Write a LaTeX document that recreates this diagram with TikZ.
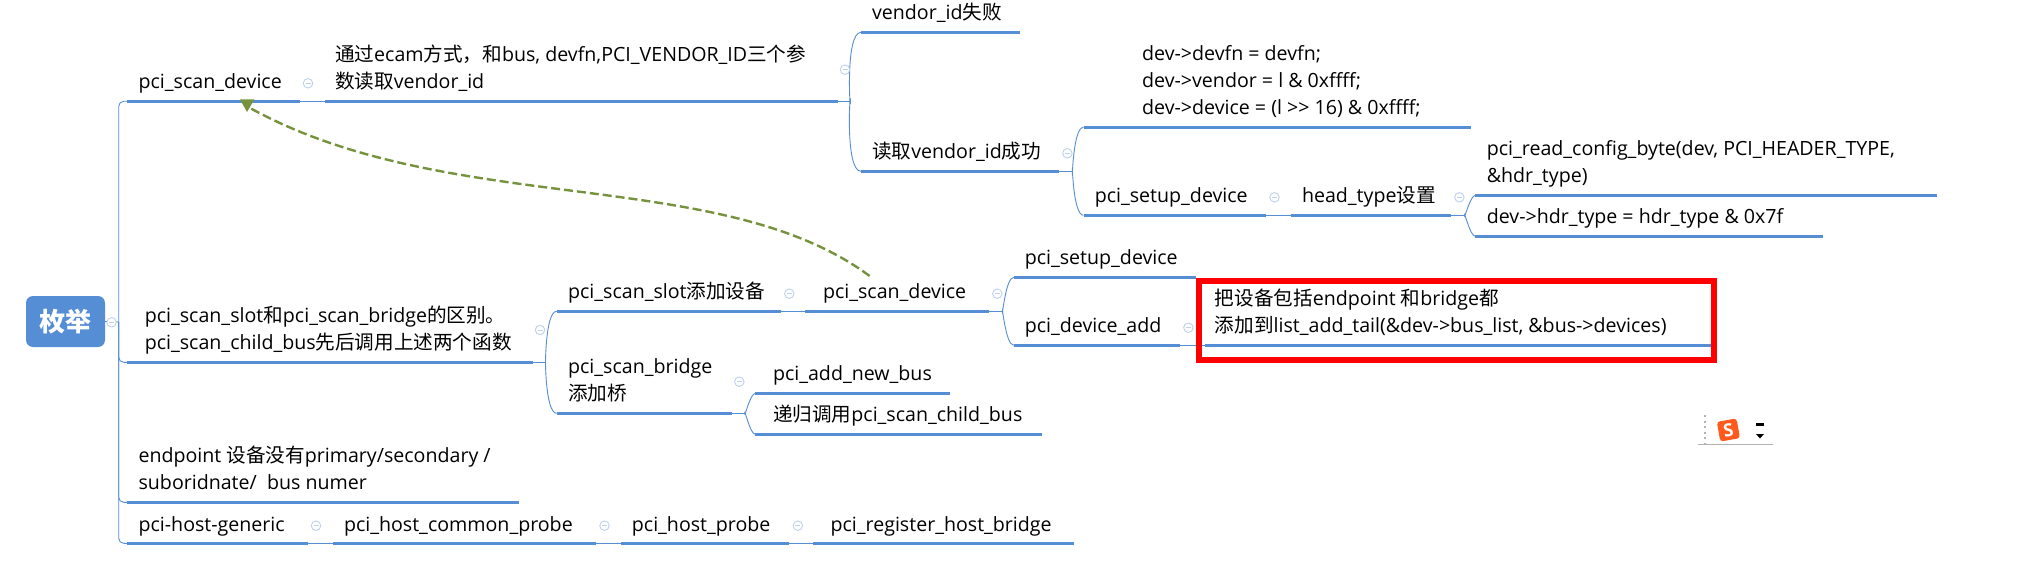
\documentclass[tikz,border=0pt]{standalone}
\usepackage{fontspec}
\setmainfont{Open Sans}
\newfontfamily\zhfont{Noto Sans CJK SC}
\newcommand{\Z}[1]{{\zhfont #1}}
\definecolor{mapblue}{RGB}{85,142,213}
\definecolor{iconblue}{RGB}{190,208,240}
\definecolor{olive}{RGB}{118,146,60}
\definecolor{logoorange}{RGB}{255,90,30}
\tikzset{
  txt/.style={anchor=west,inner sep=0pt,align=left,font=\fontsize{19.6}{26.9}\selectfont},
  thickline/.style={draw=mapblue,line width=2.8pt},
  conn/.style={draw=mapblue,line width=0.9pt},
  iconnode/.style={circle,draw=iconblue,line width=0.9pt,minimum size=9.5pt,inner sep=0pt,fill=white},
  relation/.style={draw=olive,line width=2.4pt,dash pattern=on 9pt off 4pt},
}
% #1 name, #2 x1, #3 x2, #4 line y, #5 text x, #6 text y, #7 text
\newcommand{\topic}[7]{%
  \coordinate (#1-l) at (#2,#4);
  \coordinate (#1-r) at (#3,#4);
  \path[thickline] (#1-l) -- (#1-r);
  \node[txt] (#1) at (#5,#6) {#7};
}
\newcommand{\collapse}[3]{%
  \node[iconnode] (#1) at (#2,#3) {};
  \draw[iconblue,line width=0.9pt] ([xshift=-2.5pt]#1.center) -- ([xshift=2.5pt]#1.center);
}
\begin{document}
\begin{tikzpicture}[x=1pt,y=-1pt]
\useasboundingbox (0,0) rectangle (2029,567);
\fill[white] (0,0) rectangle (2029,567);

% root
\node[fill=mapblue,rounded corners=7pt,minimum width=79pt,minimum height=51pt,inner sep=0pt,text=white,font=\zhfont\bfseries\fontsize{26}{30}\selectfont] (root) at (65.5,321.5) {枚举};
\coordinate (rootj) at (118.7,322);

% first-level topics
\topic{a}{127}{300}{101.3}{138.4}{83.3}{\strut pci\_scan\_device}
\topic{b}{127}{532.6}{362.3}{144.6}{330.6}{\strut pci\_scan\_slot\Z{和}pci\_scan\_bridge\Z{的区别。}\\\strut pci\_scan\_child\_bus\Z{先后调用上述两个函数}}
\topic{c}{127}{519}{502.3}{138.4}{470.6}{\strut endpoint \Z{设备没有}primary/secondary /\\\strut suboridnate/\ \ bus numer}
\topic{d}{127}{308}{543.3}{138.4}{525.7}{\strut pci-host-generic}

% upper branch
\topic{a1}{325}{837.5}{101.3}{334.8}{69.4}{\strut \Z{通过}ecam\Z{方式，和}bus, devfn,PCI\_VENDOR\_ID\Z{三个参}\\\strut \Z{数读取}vendor\_id}
\topic{a11}{861}{1019.6}{32.3}{871.9}{14.3}{\strut vendor\_id\Z{失败}}
\topic{a12}{861}{1059.4}{171.3}{871.9}{153.3}{\strut \Z{读取}vendor\_id\Z{成功}}
\topic{a121}{1083.5}{1470.5}{127.3}{1142}{82.2}{\strut dev->devfn = devfn;\\\strut dev->vendor = l \& 0xffff;\\\strut dev->device = (l >\kern0pt> 16) \& 0xffff;}
\topic{a122}{1083.5}{1266}{215.3}{1094.6}{197.3}{\strut pci\_setup\_device}
\topic{a123}{1290.6}{1451}{215.3}{1301.8}{197.3}{\strut head\_type\Z{设置}}
\topic{a1231}{1475.4}{1936.6}{195.3}{1486.6}{163.6}{\strut pci\_read\_config\_byte(dev, PCI\_HEADER\_TYPE,\\\strut \&hdr\_type)}
\topic{a1232}{1475.4}{1822.8}{236.3}{1486.6}{218.3}{\strut dev->hdr\_type = hdr\_type \& 0x7f}

% middle branch
\topic{b1}{556.7}{781.3}{311.3}{567.9}{293.3}{\strut pci\_scan\_slot\Z{添加设备}}
\topic{b2}{805.4}{989.3}{311.3}{822.8}{293.3}{\strut pci\_scan\_device}
\topic{b21}{1013.8}{1196.4}{277.3}{1024.6}{259.3}{\strut pci\_setup\_device}
\topic{b22}{1013.8}{1180.4}{345.3}{1024.6}{327.3}{\strut pci\_device\_add}
\topic{b3}{1204.5}{1711.2}{345.3}{1214.7}{313.6}{\strut \Z{把设备包括}endpoint \Z{和}bridge\Z{都}\\\strut \Z{添加到}list\_add\_tail(\&dev->bus\_list, \&bus->devices)}
\topic{b4}{556.7}{731.7}{413.3}{567.9}{382}{\strut pci\_scan\_bridge\\\strut \Z{添加桥}}
\topic{b41}{755.4}{950}{393.3}{772.8}{375.3}{\strut pci\_add\_new\_bus}
\topic{b42}{755.4}{1041.5}{434.3}{772.8}{416.3}{\strut \Z{递归调用}pci\_scan\_child\_bus}

% bottom chain
\topic{d1}{332.6}{596.4}{543.3}{343.8}{525.7}{\strut pci\_host\_common\_probe}
\topic{d2}{620.5}{789.3}{543.3}{631.7}{525.7}{\strut pci\_host\_probe}
\topic{d3}{813.4}{1074}{543.3}{830.4}{525.7}{\strut pci\_register\_host\_bridge}

% junctions
\coordinate (ja) at (850.4,101.3);
\coordinate (jb) at (545.5,362.3);
\coordinate (ja12) at (1072.3,171.3);
\coordinate (ja123) at (1464.3,215.3);
\coordinate (jb2) at (1002.2,311.3);
\coordinate (jb4) at (744.6,413.3);

% connectors
\draw[conn] (root.east) -- (rootj);
\draw[conn,rounded corners=5pt] (rootj) |- (a-l);
\draw[conn,rounded corners=5pt] (rootj) |- (b-l);
\draw[conn,rounded corners=5pt] (rootj) |- (c-l);
\draw[conn,rounded corners=5pt] (rootj) |- (d-l);
\draw[conn] (a-r) -- (a1-l);
\draw[conn] (d-r) -- (d1-l);
\draw[conn] (d1-r) -- (d2-l);
\draw[conn] (d2-r) -- (d3-l);
\draw[conn] (a1-r) -- (ja);
\draw[conn] (ja) to[out=-90,in=180,looseness=0.6] (a11-l);
\draw[conn] (ja) to[out=90,in=180,looseness=0.6] (a12-l);
\draw[conn] (a12-r) -- (ja12);
\draw[conn] (ja12) to[out=-90,in=180,looseness=0.6] (a121-l);
\draw[conn] (ja12) to[out=90,in=180,looseness=0.6] (a122-l);
\draw[conn] (a122-r) -- (a123-l);
\draw[conn] (a123-r) -- (ja123);
\draw[conn] (ja123) to[out=-90,in=180,looseness=0.6] (a1231-l);
\draw[conn] (ja123) to[out=90,in=180,looseness=0.6] (a1232-l);
\draw[conn] (b-r) -- (jb);
\draw[conn] (jb) to[out=-90,in=180,looseness=0.6] (b1-l);
\draw[conn] (jb) to[out=90,in=180,looseness=0.6] (b4-l);
\draw[conn] (b1-r) -- (b2-l);
\draw[conn] (b2-r) -- (jb2);
\draw[conn] (jb2) to[out=-90,in=180,looseness=0.6] (b21-l);
\draw[conn] (jb2) to[out=90,in=180,looseness=0.6] (b22-l);
\draw[conn] (b22-r) -- (b3-l);
\draw[conn] (b4-r) -- (jb4);
\draw[conn] (jb4) to[out=-90,in=180,looseness=0.6] (b41-l);
\draw[conn] (jb4) to[out=90,in=180,looseness=0.6] (b42-l);

% collapse icons
\collapse{i0}{111.6}{322.3}
\collapse{i1}{308}{83.3}
\collapse{i2}{845}{69.7}
\collapse{i3}{1067.4}{153.3}
\collapse{i4}{1274.5}{197.3}
\collapse{i5}{1459.4}{197.3}
\collapse{i6}{540}{330}
\collapse{i7}{789.3}{293.7}
\collapse{i8}{997.3}{293.7}
\collapse{i9}{1188.4}{327.7}
\collapse{i10}{739.3}{381.7}
\collapse{i11}{316}{525.7}
\collapse{i12}{604.5}{525.7}
\collapse{i13}{797.8}{525.7}

% relation
\coordinate (relstart) at (869.6,276);
\coordinate (relend) at (250,108);
\draw[relation] (relstart) .. controls (720,165) and (450,218) .. (relend);
\fill[olive] (240,99.3) -- (254.5,99.3) -- (247,112) -- cycle;

% red highlight
\draw[red,line width=6pt] (1199.4,281.3) rectangle (1714.4,359.7);

% input method widget
\draw[black!30,line width=0.8pt] (1698,444.3) -- (1772.7,444.3);
\draw[black!30,line width=1.6pt,dash pattern=on 2pt off 3.5pt] (1705,415) -- (1705,444);
\node[fill=logoorange,rounded corners=3pt,minimum size=20pt,inner sep=0pt,rotate=10,text=white,font=\bfseries\fontsize{18}{18}\selectfont] (logo) at (1728.4,430) {S};
\fill[black] (1756,423) rectangle (1764,425.6);
\fill[black] (1756,434) -- (1764,434) -- (1760,438.5) -- cycle;
\end{tikzpicture}
\end{document}
